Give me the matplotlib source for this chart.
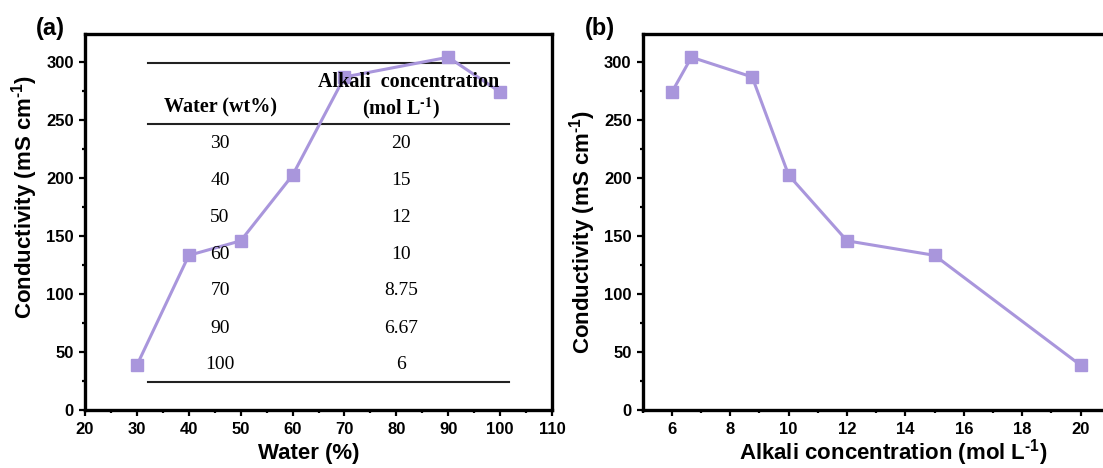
import matplotlib
matplotlib.use('Agg')
import matplotlib.pyplot as plt
from matplotlib.ticker import MultipleLocator

# data
water = [30, 40, 50, 60, 70, 90, 100]
alkali = [20, 15, 12, 10, 8.75, 6.67, 6]
conductivity = [39, 133.5, 146, 202.5, 287, 304, 274]

# inset table in panel (a)
table_water = ['30', '40', '50', '60', '70', '90', '100']
table_alkali = ['20', '15', '12', '10', '8.75', '6.67', '6']

plt.rcParams['font.family'] = 'Liberation Sans'
plt.rcParams['font.weight'] = 'bold'
plt.rcParams['mathtext.fontset'] = 'custom'
plt.rcParams['mathtext.rm'] = 'Liberation Sans:bold'
plt.rcParams['mathtext.bf'] = 'Liberation Sans:bold'

col = '#a996dc'

fig = plt.figure(figsize=(11.03, 4.68), dpi=100)
ax1 = fig.add_axes([0.0771, 0.1229, 0.4234, 0.8045])
ax2 = fig.add_axes([0.5827, 0.1229, 0.4234, 0.8045])

for ax in (ax1, ax2):
    for s in ax.spines.values():
        s.set_linewidth(2.4)
    ax.tick_params(which='major', direction='out', length=4, width=1.6,
                   labelsize=12, pad=4)
    ax.tick_params(which='minor', direction='out', length=2.5, width=1.6)
    ax.yaxis.set_major_locator(MultipleLocator(50))
    ax.yaxis.set_minor_locator(MultipleLocator(25))
    ax.set_ylim(0, 324)
    for t in ax.get_xticklabels() + ax.get_yticklabels():
        t.set_fontweight('bold')

ylab = r'Conductivity (mS cm$^{\text{-1}}$)'

# (a) conductivity vs water
ax1.plot(water, conductivity, '-s', color=col, lw=2.2, ms=9, mec=col, zorder=3)
ax1.set_xlim(20, 110)
ax1.xaxis.set_major_locator(MultipleLocator(10))
ax1.xaxis.set_minor_locator(MultipleLocator(5))
ax1.set_xlabel('Water (%)', fontsize=16, fontweight='bold', va='center')
ax1.xaxis.set_label_coords(0.48, -0.113)
ax1.set_ylabel(ylab, fontsize=16, fontweight='bold', va='center')
ax1.yaxis.set_label_coords(-0.1296, 0.567)

# table
tr = ax1.transAxes
for yl in (0.922, 0.761, 0.0765):
    ax1.plot([0.135, 0.908], [yl, yl], color='#222222', lw=1.5, transform=tr, zorder=2)
serif = 'Liberation Serif'
ax1.text(0.289, 0.8035, 'Water (wt%)', transform=tr, ha='center', va='center',
         family=serif, fontweight='bold', fontsize=14.5)
ax1.text(0.692, 0.8725, 'Alkali  concentration', transform=tr, ha='center', va='center',
         family=serif, fontweight='bold', fontsize=14.5)
ax1.text(0.677, 0.8035, r'(mol L$^{\text{-1}}$)', transform=tr, ha='center', va='center',
         family=serif, fontweight='bold', fontsize=14.5, math_fontfamily='stix')
row_y = [0.7097, 0.6104, 0.5131, 0.4149, 0.3174, 0.2183, 0.1209]
for w, a, yy in zip(table_water, table_alkali, row_y):
    ax1.text(0.289, yy, w, transform=tr, ha='center', va='center',
             family=serif, fontweight='normal', fontsize=14)
    ax1.text(0.677, yy, a, transform=tr, ha='center', va='center',
             family=serif, fontweight='normal', fontsize=14)

# (b) conductivity vs alkali concentration
ax2.plot(alkali, conductivity, '-s', color=col, lw=2.2, ms=9, mec=col, zorder=3)
ax2.set_xlim(5, 21)
ax2.xaxis.set_major_locator(MultipleLocator(2))
ax2.xaxis.set_minor_locator(MultipleLocator(1))
ax2.set_xlabel(r'Alkali concentration (mol L$^{\text{-1}}$)', fontsize=16,
               fontweight='bold', va='center')
ax2.xaxis.set_label_coords(0.536, -0.113)
ax2.set_ylabel(ylab, fontsize=16, fontweight='bold', va='center')
ax2.yaxis.set_label_coords(-0.129, 0.474)

fig.text(50 / 1103, 1 - 29 / 468, '(a)', fontsize=17, fontweight='bold', ha='center', va='center')
fig.text(600 / 1103, 1 - 29 / 468, '(b)', fontsize=17, fontweight='bold', ha='center', va='center')

fig.savefig('out.png', dpi=100)
